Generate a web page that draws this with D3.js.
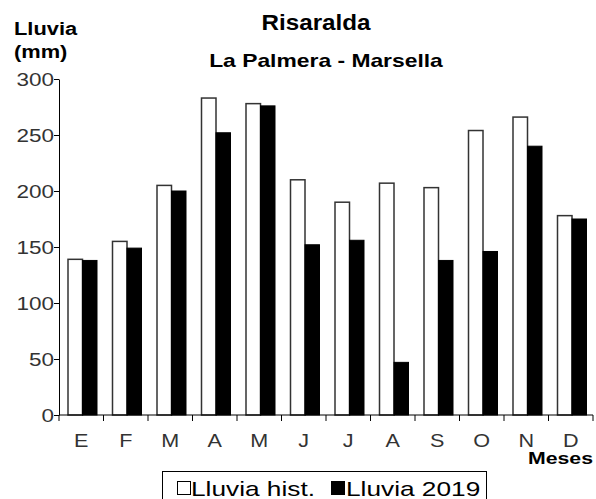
<!DOCTYPE html>
<html><head><meta charset="utf-8">
<script src="https://cdn.jsdelivr.net/npm/d3@7"></script>
<style>body{margin:0;background:#fff}svg{display:block;font-family:"Liberation Sans",Arial,sans-serif}</style>
</head><body>
<svg id="c" width="596" height="499"></svg>
<script>
const months = ["E","F","M","A","M","J","J","A","S","O","N","D"];
const lluviaHist = [139,155,205,283,278,210,190,207,203,254,266,178];
const lluvia2019 = [138,149,200,252,276,152,156,47,138,146,240,175];
const yTicks = [0,50,100,150,200,250,300];

const svg = d3.select("#c");
const x0 = 59, x1 = 593, yTop = 79, yBot = 415;
const x = d3.scaleBand().domain(d3.range(months.length)).range([x0, x1]).padding(0);
const y = d3.scaleLinear().domain([0,300]).range([yBot, yTop]);
const bw = x.bandwidth();
const barW = 14.5, off = 9;

function stext(px, py, str, size, weight, anchor, sx, fill){
  return svg.append("text").attr("transform",`translate(${px},${py}) scale(${sx},1)`)
    .attr("font-size",size).attr("font-weight",weight||"normal")
    .attr("text-anchor",anchor||"start").attr("fill",fill||"#000").text(str);
}

const g = svg.append("g");
months.forEach((m,i)=>{
  g.append("rect").attr("x", x(i)+off).attr("y", y(lluviaHist[i])).attr("width", barW)
   .attr("height", y(0)-y(lluviaHist[i])).attr("fill","#fff").attr("stroke","#333").attr("stroke-width",1.5);
  g.append("rect").attr("x", x(i)+off+barW).attr("y", y(lluvia2019[i])).attr("width", barW)
   .attr("height", y(0)-y(lluvia2019[i])).attr("fill","#000").attr("stroke","#000").attr("stroke-width",1);
});

// y axis
const ya = svg.append("g").attr("transform",`translate(${x0},0)`)
  .call(d3.axisLeft(y).tickValues(yTicks).tickSize(5).tickSizeOuter(0).tickPadding(0));
ya.select(".domain").attr("stroke","#000");
ya.selectAll(".tick line").attr("stroke","#000");
ya.selectAll(".tick text").remove();
yTicks.forEach(v=>{
  stext(x0-5, y(v)+6.5, String(v), 18, "normal", "end", 1.25, "#333");
});
// x axis
svg.append("line").attr("x1",x0).attr("x2",x1).attr("y1",yBot).attr("y2",yBot).attr("stroke","#000");
d3.range(months.length+1).forEach(i=>{
  const xx = i<months.length ? x(i) : x1;
  svg.append("line").attr("x1",xx).attr("x2",xx).attr("y1",yBot).attr("y2",yBot+6).attr("stroke","#000");
});
months.forEach((m,i)=>{
  stext(x(i)+bw/2, 446.5, m, 18, "normal", "middle", 1.2, "#333");
});

stext(593, 463.5, "Meses", 17, "bold", "end", 1.25);
stext(14, 35, "Lluvia", 19, "bold", "start", 1.15);
stext(14, 58, "(mm)", 19, "bold", "start", 1.15);
stext(316, 30, "Risaralda", 22, "bold", "middle", 1.1);
stext(326, 67, "La Palmera - Marsella", 18, "bold", "middle", 1.27);

// legend
svg.append("rect").attr("x",162.5).attr("y",471.5).attr("width",324).attr("height",30).attr("fill","#fff").attr("stroke","#000");
svg.append("rect").attr("x",177.5).attr("y",481.5).attr("width",13).attr("height",13).attr("fill","#fff").attr("stroke","#000");
stext(191, 496, "Lluvia hist.", 21, "normal", "start", 1.25);
svg.append("rect").attr("x",331).attr("y",481).attr("width",14).attr("height",14).attr("fill","#000");
stext(346, 496, "Lluvia 2019", 21, "normal", "start", 1.25);
</script>
</body></html>
